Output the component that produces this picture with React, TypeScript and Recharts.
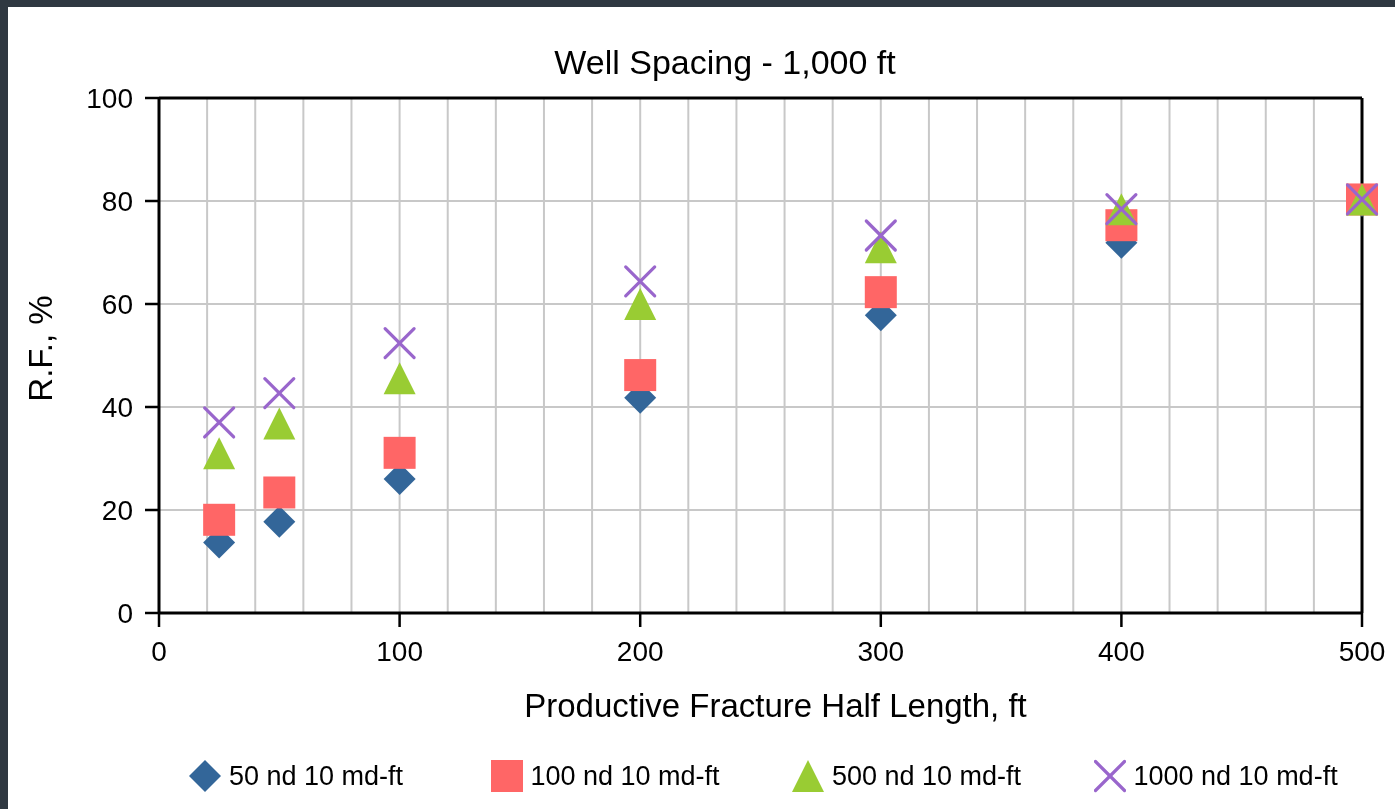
import { CartesianGrid, Legend, ReferenceLine, Scatter, ScatterChart, XAxis, YAxis } from "recharts";

// values (R.F. in %, half length in ft)
const HALF_LENGTH = [25, 50, 100, 200, 300, 400, 500];
const RF_50ND = [13.7, 17.7, 26.0, 41.8, 57.8, 71.9, 80.0];
const RF_100ND = [18.1, 23.4, 31.1, 46.2, 62.3, 75.3, 80.3];
const RF_500ND = [31.0, 36.8, 45.6, 60.0, 71.0, 78.4, 80.3];
const RF_1000ND = [37.0, 42.7, 52.4, 64.4, 73.3, 78.4, 80.3];

const X_TICKS = [0, 100, 200, 300, 400, 500];
const X_GRID = [20, 40, 60, 80, 100, 120, 140, 160, 180, 200, 220, 240, 260, 280, 300, 320, 340, 360, 380, 400, 420, 440, 460, 480];
const Y_TICKS = [0, 20, 40, 60, 80, 100];

const FONT = "'Liberation Sans', Arial, sans-serif";

type Marker = "diamond" | "square" | "triangle" | "x";

const SERIES: { name: string; color: string; marker: Marker; values: number[] }[] = [
  { name: "50 nd 10 md-ft", color: "#336699", marker: "diamond", values: RF_50ND },
  { name: "100 nd 10 md-ft", color: "#ff6666", marker: "square", values: RF_100ND },
  { name: "500 nd 10 md-ft", color: "#99cc33", marker: "triangle", values: RF_500ND },
  { name: "1000 nd 10 md-ft", color: "#9966cc", marker: "x", values: RF_1000ND },
];

/** Draws one marker centred on (cx, cy). */
function markerShape(kind: Marker, color: string, cx: number, cy: number, r = 16) {
  if (kind === "diamond")
    return <polygon points={`${cx},${cy - r} ${cx + r},${cy} ${cx},${cy + r} ${cx - r},${cy}`} fill={color} />;
  if (kind === "square") return <rect x={cx - r} y={cy - r} width={r * 2} height={r * 2} fill={color} />;
  if (kind === "triangle")
    return <polygon points={`${cx},${cy - r} ${cx + r},${cy + r} ${cx - r},${cy + r}`} fill={color} />;
  const d = r - 1.5;
  return (
    <g stroke={color} strokeWidth={3.2} strokeLinecap="round">
      <line x1={cx - d} y1={cy - d} x2={cx + d} y2={cy + d} />
      <line x1={cx - d} y1={cy + d} x2={cx + d} y2={cy - d} />
    </g>
  );
}

function LegendRow() {
  return (
    <div style={{ display: "flex", paddingLeft: 181, fontFamily: FONT, fontSize: 27, color: "#000" }}>
      {SERIES.map((s) => (
        <div key={s.name} style={{ width: 305, display: "flex", alignItems: "center", height: 34 }}>
          <svg width={32} height={34} style={{ marginRight: 8 }}>
            {markerShape(s.marker, s.color, 16, 17, 16)}
          </svg>
          <span>{s.name}</span>
        </div>
      ))}
    </div>
  );
}

export default function App() {
  return (
    <div style={{ position: "fixed", left: 0, top: 0, width: 1395, height: 809, background: "#2f3841" }}>
      <div style={{ position: "absolute", left: 8, top: 7, width: 1387, height: 802, background: "#fff" }}>
        <div
          style={{
            position: "absolute",
            left: 0,
            top: 39,
            width: 1434,
            textAlign: "center",
            fontFamily: FONT,
            fontSize: 34,
            lineHeight: "32px",
            color: "#000",
          }}
        >
          Well Spacing - 1,000 ft
        </div>
        <ScatterChart width={1387} height={802} margin={{ top: 91, right: 33, left: 0, bottom: 86 }}>
          <CartesianGrid vertical={false} stroke="#c8c8c8" strokeWidth={2} />
          <XAxis
            type="number"
            dataKey="x"
            domain={[0, 500]}
            ticks={X_TICKS}
            interval={0}
            height={110}
            tickSize={14}
            tickMargin={14}
            axisLine={{ stroke: "#000", strokeWidth: 3 }}
            tickLine={{ stroke: "#000", strokeWidth: 2.5 }}
            tick={{ fill: "#000", fontSize: 28, fontFamily: FONT }}
            label={{
              content: (p: any) => {
                const vb = p.viewBox;
                return (
                  <text
                    x={vb.x + vb.width / 2 + 15}
                    y={vb.y + 104}
                    textAnchor="middle"
                    fontFamily={FONT}
                    fontSize={33}
                    fill="#000"
                  >
                    Productive Fracture Half Length, ft
                  </text>
                );
              },
            }}
          />
          <YAxis
            type="number"
            dataKey="y"
            domain={[0, 100]}
            ticks={Y_TICKS}
            interval={0}
            width={151}
            tickSize={14}
            tickMargin={12}
            axisLine={{ stroke: "#000", strokeWidth: 3 }}
            tickLine={{ stroke: "#000", strokeWidth: 2.5 }}
            tick={{ fill: "#000", fontSize: 28, fontFamily: FONT }}
            label={{
              content: (p: any) => {
                const vb = p.viewBox;
                const x = vb.x + 44;
                const y = vb.y + vb.height / 2 - 7;
                return (
                  <text
                    x={x}
                    y={y}
                    transform={`rotate(-90 ${x} ${y})`}
                    textAnchor="middle"
                    fontFamily={FONT}
                    fontSize={33}
                    fill="#000"
                  >
                    R.F., %
                  </text>
                );
              },
            }}
          />
          {X_GRID.map((v) => (
            <ReferenceLine key={v} x={v} stroke="#c8c8c8" strokeWidth={2} />
          ))}
          <ReferenceLine y={100} stroke="#000" strokeWidth={3} />
          <ReferenceLine x={500} stroke="#000" strokeWidth={3} />
          {SERIES.map((s) => (
            <Scatter
              key={s.name}
              name={s.name}
              data={HALF_LENGTH.map((x, i) => ({ x, y: s.values[i] }))}
              fill={s.color}
              isAnimationActive={false}
              shape={(p: any) => markerShape(s.marker, s.color, p.cx, p.cy)}
            />
          ))}
          <Legend
            verticalAlign="middle"
            align="center"
            content={() => <LegendRow />}
            wrapperStyle={{ top: 752, left: 0, width: 1387, height: 34 }}
          />
        </ScatterChart>
      </div>
    </div>
  );
}
